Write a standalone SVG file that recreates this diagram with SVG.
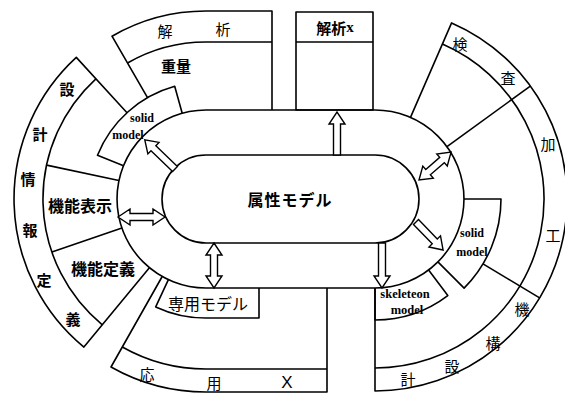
<svg xmlns="http://www.w3.org/2000/svg" width="565" height="394" viewBox="0 0 565 394">
<style>
.ln{fill:none;stroke:#000;stroke-width:1.6;stroke-linejoin:round}
.bx{fill:#fff;stroke:#000;stroke-width:1.6}
.ar{fill:#fff;stroke:#000;stroke-width:1.4;stroke-linejoin:miter}
.jp{font-family:"Noto Sans CJK JP","Noto Sans CJK SC",sans-serif;font-size:15px;fill:#000;text-anchor:middle;dominant-baseline:central}
.b{font-weight:bold}
.en{font-family:"Liberation Serif",serif;font-weight:bold;font-size:12px;fill:#000;text-anchor:middle;dominant-baseline:central}
</style>
<rect width="565" height="394" fill="#fff"/>

<g id="sekkei-jouhou-teigi">
<path class="ln" d="M127 112.7 L76.3 57.4 A192 192 0 0 0 83.9 347.1 L149.4 267.7"/>
<path class="ln" d="M95.9 78.8 A163 163 0 0 0 102.3 324.8"/>
<text class="jp b" x="67" y="88">設</text>
<text class="jp b" x="40" y="133">計</text>
<text class="jp b" x="28" y="178">情</text>
<text class="jp b" x="30" y="229">報</text>
<text class="jp b" x="44" y="279">定</text>
<text class="jp b" x="73" y="318">義</text>
</g>

<g id="kinou-hyouji">
<path class="ln" d="M118.9 180.5 L46.6 165.1"/>
<text class="jp b" x="80" y="205" style="font-size:16px">機能表示</text>
</g>

<g id="kinou-teigi">
<path class="ln" d="M121.9 228 L51.9 252.1"/>
<text class="jp b" x="103" y="268" style="font-size:16px">機能定義</text>
</g>

<g id="kaiseki">
<path class="ln" d="M147.5 97.7 L112 36.2 A188 188 0 0 1 206 11 H272 V110"/>
<path class="ln" d="M127.5 63 A157 157 0 0 1 206 42 H272"/>
<text class="jp" x="165" y="30">解</text>
<text class="jp" x="223" y="28">析</text>
<text class="jp b" x="176" y="65">重量</text>
</g>

<g id="solid-model-left">
<path class="ln" d="M182.2 113.2 L174.7 86.3 A117 117 0 0 0 97.5 155.2 L123.5 165.7"/>
<text class="en" x="142" y="118">solid</text>
<text class="en" x="128" y="135">model</text>
</g>

<g id="kaiseki-x">
<rect class="ln" x="296" y="12" width="77" height="98"/>
<path class="ln" d="M296 42 H373"/>
<text class="jp b" x="335" y="27">解析<tspan style="font-family:'Liberation Serif',serif">x</tspan></text>
</g>

<g id="kensa-kakou">
<path class="ln" d="M410.5 117.4 L451.6 22.9 A192 192 0 0 1 375 391 V288"/>
<path class="ln" d="M442.4 44 A169 169 0 0 1 375 368"/>
<path class="ln" d="M447 146.7 L530.3 86.1"/>
<text class="jp" x="460" y="43">検</text>
<text class="jp" x="508" y="77">査</text>
<text class="jp" x="548" y="143">加</text>
<text class="jp" x="553" y="234">工</text>
</g>

<g id="kikou-sekkei">
<path class="ln" d="M483 263.9 L539.6 297.9"/>
<text class="jp" x="522" y="308">機</text>
<text class="jp" x="493" y="342">構</text>
<text class="jp" x="452" y="365">設</text>
<text class="jp" x="408" y="378">計</text>
</g>

<g id="solid-model-right">
<path class="ln" d="M464 199 L501 199 A126 126 0 0 1 464.1 288.1 L437.9 261.9"/>
<text class="en" x="472" y="233">solid</text>
<text class="en" x="472" y="252">model</text>
</g>

<g id="skeleteon-model">
<path class="ln" d="M375 288 V320 A121 121 0 0 0 447.8 295.6 L428.6 270.1"/>
<text class="en" x="405" y="294" style="font-size:12.5px">skeleteon</text>
<text class="en" x="407" y="310" style="font-size:12.5px">model</text>
</g>

<g id="ouyou-x">
<path class="ln" d="M162.2 276.5 L111 367 A193 193 0 0 0 206 392 H327 V288"/>
<path class="ln" d="M122.3 347 A170 170 0 0 0 206 369 H327"/>
<text class="jp" x="147" y="373">応</text>
<text class="jp" x="214" y="382">用</text>
<text class="jp" x="287" y="382" style="font-family:'Liberation Sans',sans-serif;font-size:17px">X</text>
</g>

<g id="senyou-model">
<path class="ln" d="M168.4 279.7 L155.7 306.9 A119 119 0 0 0 206 318 H259 V288"/>
<text class="jp" x="208" y="303" style="font-size:16px">専用モデル</text>
</g>

<g id="outer-ring">
<path class="ln" d="M206 110 H375 A89 89 0 0 1 375 288 H206 A89 89 0 0 1 206 110 Z"/>
</g>

<g id="zokusei-model">
<path class="bx" d="M206 155 H375 A44 44 0 0 1 375 243 H206 A44 44 0 0 1 206 155 Z"/>
<text class="jp b" x="290" y="199" style="font-size:16px;letter-spacing:1px">属性モデル</text>
</g>

<g id="connectors">
<polygon class="ar" points="0,-3.5 30,-3.5 30,-8 42,0 30,8 30,3.5 0,3.5" transform="translate(175,169) rotate(-136)"/>
<polygon class="ar" points="0,-3.5 31,-3.5 31,-8 43,0 31,8 31,3.5 0,3.5" transform="translate(337,155) rotate(-90)"/>
<polygon class="ar" points="0,0 12,-8 12,-3.5 30.5,-3.5 30.5,-8 42.5,0 30.5,8 30.5,3.5 12,3.5 12,8" transform="translate(419,180) rotate(-41)"/>
<polygon class="ar" points="0,0 12,-8 12,-3.5 35,-3.5 35,-8 47,0 35,8 35,3.5 12,3.5 12,8" transform="translate(118,217)"/>
<polygon class="ar" points="0,0 12,-8 12,-3.5 33,-3.5 33,-8 45,0 33,8 33,3.5 12,3.5 12,8" transform="translate(214,243) rotate(90)"/>
<polygon class="ar" points="0,-3.5 27,-3.5 27,-8 39,0 27,8 27,3.5 0,3.5" transform="translate(416,222) rotate(46)"/>
<polygon class="ar" points="0,-3.5 33,-3.5 33,-8 45,0 33,8 33,3.5 0,3.5" transform="translate(382,243) rotate(90)"/>
</g>
</svg>
